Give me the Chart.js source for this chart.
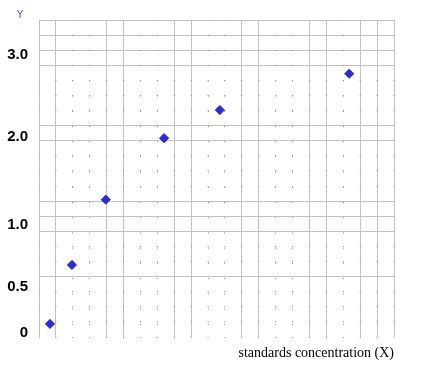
<!DOCTYPE html>
<html>
<head>
<meta charset="utf-8">
<title>Standards calibration</title>
<script src="https://cdn.jsdelivr.net/npm/chart.js@4.4.1/dist/chart.umd.min.js"></script>
<style>
  html, body { margin: 0; padding: 0; background: #fff; }
  #wrap { position: relative; width: 425px; height: 381px; }
</style>
</head>
<body>
<div id="wrap"><canvas id="calChart"></canvas></div>
<script>
// readings off the sheet (x in paper columns, y in the printed units)
const xValues = [0.65, 1.95, 3.95, 7.4, 10.7, 18.35];
const yValues = [0.10, 0.68, 1.29, 1.99, 2.33, 2.77];
const yTickValues = [0, 0.5, 1.0, 2.0, 3.0];
const yTickLabels = ['0', '0.5', '1.0', '2.0', '3.0'];
const xTitle = 'standards concentration (X)';
const yTitle = 'Y';

// graph paper: 21 x 21 squares, some rules printed solid, the rest only dotted
const gridCols = 21;
const gridRows = 21;
const solidCols = [0, 1, 4, 5, 8, 9, 12, 13, 16, 17, 19, 20, 21];
const solidRows = [4, 7, 8, 9, 13, 14, 18, 19, 20, 21];

// the printed y labels are not evenly spaced, so the value axis bends
// (value -> row on the paper)
const yKnotValues = [0, 0.5, 1.0, 2.0, 3.0];
const yKnotRows = [0.26, 3.29, 7.41, 13.23, 18.7];

const solidColor = '#c2c2c2';
const dotColor = '#8c8c8c';
const pointColor = '#2d2dc9';

function interp(v, xs, ys) {
    let i = 1;
    while (i < xs.length - 1 && v > xs[i]) i++;
    const t = (v - xs[i - 1]) / (xs[i] - xs[i - 1]);
    return ys[i - 1] + t * (ys[i] - ys[i - 1]);
}

// linear scale that places values through the knots above
class BentScale extends Chart.LinearScale {
    getPixelForValue(value) {
        if (value === null || value === undefined || isNaN(value)) return NaN;
        return this.getPixelForDecimal(interp(value, yKnotValues, yKnotRows) / gridRows);
    }
    getValueForPixel(pixel) {
        return interp(this.getDecimalForPixel(pixel) * gridRows, yKnotRows, yKnotValues);
    }
}
BentScale.id = 'bent';
BentScale.defaults = Chart.LinearScale.defaults;
Chart.register(BentScale);

const everyLine = n => s => { s.ticks = Array.from({length: n + 1}, (_, i) => ({value: i})); };

// grid-only axis: solid rules or dotted rules
function paperAxis(position, count, solid, dotted, dash) {
    return {
        type: 'linear',
        position: position,
        min: 0,
        max: count,
        afterBuildTicks: everyLine(count),
        ticks: { display: false },
        border: { display: false, dash: dotted ? dash : [], dashOffset: 0.5 },
        grid: {
            drawTicks: false,
            z: dotted ? 0 : -1,
            color: c => (solid.includes(c.tick.value) !== dotted) ? (dotted ? dotColor : solidColor) : 'transparent'
        }
    };
}

// "Y" over the label column
const yTitlePlugin = {
    id: 'yTitle',
    afterDraw(chart) {
        const {ctx, chartArea} = chart;
        ctx.save();
        ctx.font = '11px "DejaVu Sans"';
        ctx.fillStyle = '#5a5ae0';
        ctx.textAlign = 'center';
        ctx.textBaseline = 'middle';
        ctx.fillText(yTitle, chart.scales.y.left + 20, chartArea.top - 5);
        ctx.restore();
    }
};

const xAxis = paperAxis('bottom', gridCols, solidCols, false);
xAxis.title = {
    display: true,
    text: xTitle,
    align: 'end',
    color: '#000',
    font: { family: '"Liberation Serif", "Times New Roman", serif', size: 14 },
    padding: { top: 9, bottom: 19 }
};
xAxis.afterFit = s => { s.height = 44; };

new Chart(document.getElementById('calChart'), {
    type: 'scatter',
    data: {
        datasets: [{
            data: xValues.map((x, i) => ({ x: x, y: yValues[i] })),
            pointStyle: 'rectRot',
            pointRadius: 4.6,
            backgroundColor: pointColor,
            borderColor: pointColor,
            borderWidth: 1
        }]
    },
    options: {
        responsive: true,
        maintainAspectRatio: false,
        animation: false,
        layout: { padding: { left: 0, right: 31, top: 18, bottom: 0 } },
        plugins: { legend: { display: false }, tooltip: { enabled: false } },
        scales: {
            x: xAxis,
            xDots: paperAxis('bottom', gridCols, solidCols, true, [1, 14.21]),
            y: {
                type: 'bent',
                position: 'left',
                min: -0.05,
                max: 3.45,
                afterBuildTicks: s => { s.ticks = yTickValues.map(v => ({ value: v })); },
                afterFit: s => { s.width = 39; },
                ticks: {
                    padding: 11,
                    color: '#000',
                    font: { family: '"Liberation Sans", Arial, sans-serif', size: 15, weight: 'bold' },
                    callback: (v, i) => yTickLabels[i]
                },
                grid: { display: false, drawTicks: false },
                border: { display: false }
            },
            yGrid: paperAxis('left', gridRows, solidRows, false),
            yDots: paperAxis('left', gridRows, solidRows, true, [1, 15.905])
        }
    },
    plugins: [yTitlePlugin]
});
</script>
</body>
</html>
